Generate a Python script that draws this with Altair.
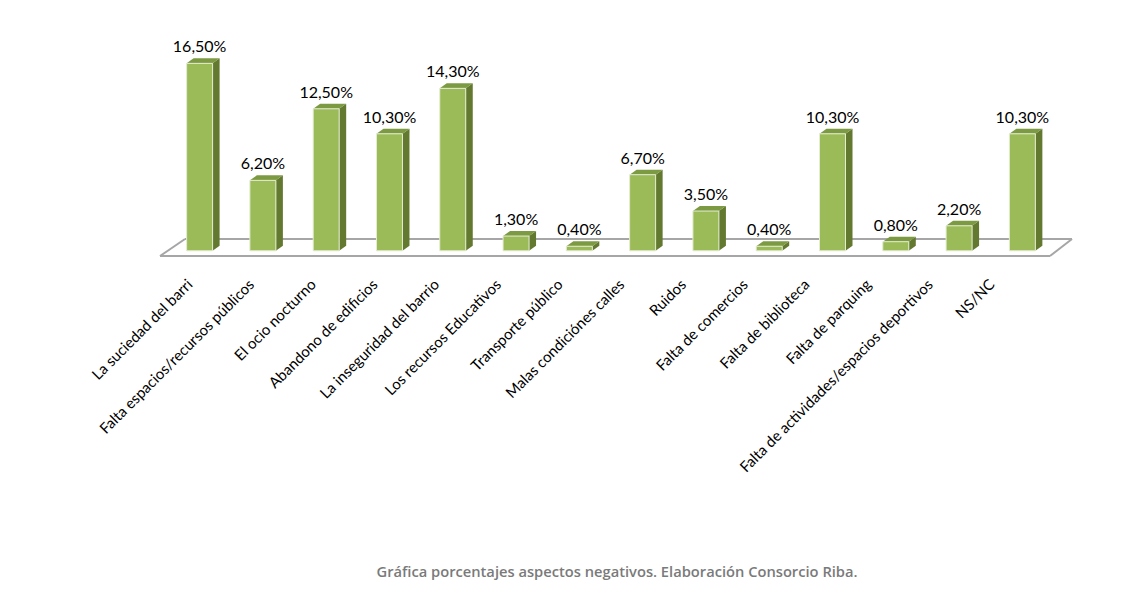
import altair as alt
import pandas as pd

categories = [
    "La suciedad del barri",
    "Falta espacios/recursos públicos",
    "El ocio nocturno",
    "Abandono de edificios",
    "La inseguridad del barrio",
    "Los recursos Educativos",
    "Transporte público",
    "Malas condiciónes  calles",
    "Ruidos",
    "Falta de comercios",
    "Falta de biblioteca",
    "Falta de parquing",
    "Falta de actividades/espacios deportivos",
    "NS/NC",
]
values = [16.5, 6.2, 12.5, 10.3, 14.3, 1.3, 0.4, 6.7, 3.5, 0.4, 10.3, 0.8, 2.2, 10.3]
caption = "Gráfica porcentajes aspectos negativos. Elaboración Consorcio Riba."

# ---- geometry (pixels) ----
W, H = 1115, 591
PX_X = 63.29          # px per category step
PX_Y = 11.36          # px per percentage point
X0_PX = 191.6         # centre of first bar
Y0_PX = 242.8         # baseline of bars
FW, DX, DY = 26, 7, 5  # front width, depth x, depth y

xdom = [-X0_PX / PX_X, (W - X0_PX) / PX_X]
ydom = [-(H - Y0_PX) / PX_Y, Y0_PX / PX_Y]
hw = FW / 2 / PX_X
ddx = DX / PX_X
ddy = DY / PX_Y

FRONT = "#9bbb59"
SIDE = "#62792f"
TOP = "#7c9a42"
FLOOR = "#a6a6a6"

idx = list(range(len(categories)))
df = pd.DataFrame({"cat": categories, "val": values, "idx": idx})

# vertex tables for 3D side and top faces, built from the value arrays
side_rows, top_rows = [], []
for i, (c, v) in enumerate(zip(categories, values)):
    R = i + hw
    L = i - hw
    side_rows += [
        {"cat": c, "x": R, "y": v, "y2": 0},
        {"cat": c, "x": R + ddx, "y": v + ddy, "y2": ddy},
    ]
    top_rows += [
        {"cat": c, "x": L, "y": v, "y2": v},
        {"cat": c, "x": L + ddx, "y": v + ddy, "y2": v},
        {"cat": c, "x": R, "y": v + ddy, "y2": v},
        {"cat": c, "x": R + ddx, "y": v + ddy, "y2": v + ddy},
    ]
side_df = pd.DataFrame(side_rows)
top_df = pd.DataFrame(top_rows)

xsc = alt.Scale(domain=xdom, nice=False, zero=False)
ysc = alt.Scale(domain=ydom, nice=False, zero=False)


def floor_line(x1, y1, x2, y2):
    return alt.Chart(df.head(1)).mark_rule(color=FLOOR, strokeWidth=2).encode(
        x=alt.value(x1), y=alt.value(y1), x2=alt.value(x2), y2=alt.value(y2))


floor = [floor_line(177, 231, 1064, 231), floor_line(152, 248, 1042, 248),
         floor_line(152, 248, 177, 231), floor_line(1042, 248, 1064, 231)]

side = alt.Chart(side_df).mark_area(color=SIDE, opacity=1).encode(
    x=alt.X("x:Q", scale=xsc, axis=None),
    y=alt.Y("y:Q", scale=ysc, axis=None),
    y2="y2:Q",
    detail="cat:N",
)

top = alt.Chart(top_df).mark_area(color=TOP, opacity=1).encode(
    x=alt.X("x:Q", scale=xsc, axis=None),
    y=alt.Y("y:Q", scale=ysc, axis=None),
    y2="y2:Q",
    detail="cat:N",
)

front = alt.Chart(df).transform_calculate(
    xl=f"datum.idx - {hw}", xr=f"datum.idx + {hw}", y0="0"
).mark_rect(color=FRONT, stroke="#e4ecd2", strokeWidth=1).encode(
    x=alt.X("xl:Q", scale=xsc, axis=None),
    x2="xr:Q",
    y=alt.Y("val:Q", scale=ysc, axis=None),
    y2="y0:Q",
)

vlabels = alt.Chart(df).transform_calculate(
    lab="replace(format(datum.val, '.2f'), '.', ',') + '%'"
).mark_text(font="Lato", fontSize=16, color="#000000", baseline="alphabetic",
            align="center", dy=-11).encode(
    x=alt.X("idx:Q", scale=xsc, axis=None),
    y=alt.Y("val:Q", scale=ysc, axis=None),
    text="lab:N",
)

cat_labels = alt.Chart(df).transform_calculate(
    lx="datum.idx * 0.9749 - 0.152"
).mark_text(font="Lato", fontSize=15, color="#000000", angle=315,
            align="right", baseline="middle").encode(
    x=alt.X("lx:Q", scale=xsc, axis=None),
    y=alt.value(274),
    text="cat:N",
)

cap = alt.Chart(pd.DataFrame({"t": [caption]})).mark_text(
    font="Open Sans", fontSize=14.7, fontWeight=600, color="#7a7a7a", align="center",
    baseline="middle").encode(x=alt.value(609), y=alt.value(565), text="t:N")

chart = alt.layer(*floor, side, top, front, vlabels, cat_labels, cap).properties(
    width=W, height=H,
    padding=0,
    background="white",
).configure_view(stroke=None)

chart.save("out.html", embed_options={"renderer": "svg", "actions": False})
